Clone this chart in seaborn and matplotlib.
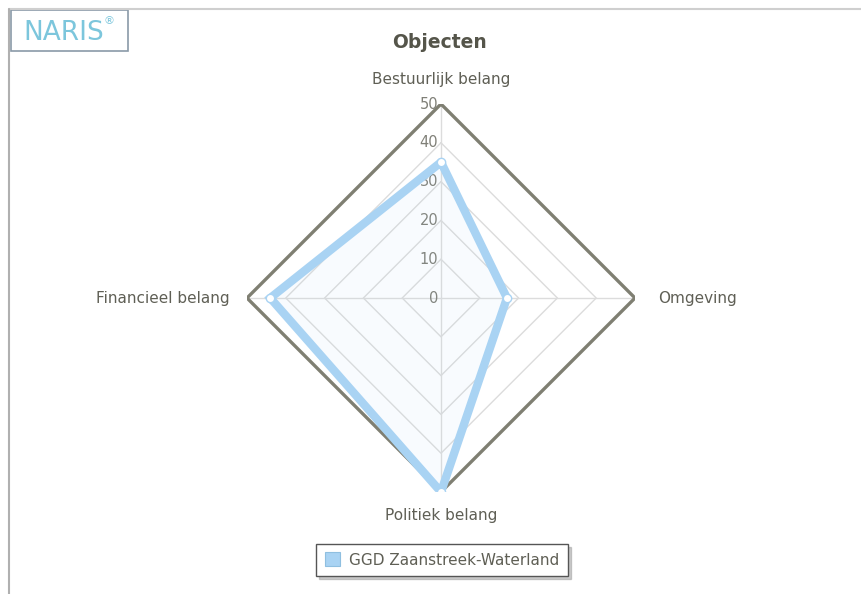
import numpy as np
import pandas as pd
import matplotlib
matplotlib.use("Agg")
import matplotlib.pyplot as plt
import seaborn as sns
from matplotlib.patches import Rectangle
from matplotlib.lines import Line2D

# Gegevens
categorieen = ["Bestuurlijk belang", "Omgeving", "Politiek belang", "Financieel belang"]
waarden = [35, 17, 50, 44]
ringen = [10, 20, 30, 40, 50]
reeks_naam = "GGD Zaanstreek-Waterland"
titel = "Objecten"

sns.set_theme(style="white")
plt.rcParams['font.family'] = ['DejaVu Sans']

tekst_kleur = "#5f5f55"
lijn_blauw = "#a9d3f3"

fig = plt.figure(figsize=(8.62, 5.94), dpi=100)
fig.patch.set_facecolor("white")

# rand van het paneel
fig.add_artist(Line2D([9.5 / 862, 1], [1 - 9 / 594, 1 - 9 / 594], color="#cfcfcf", lw=1.5))
fig.add_artist(Line2D([9.5 / 862, 9.5 / 862], [0, 1 - 9 / 594], color="#b0b0b0", lw=1.5))

# NARIS logo
fig.add_artist(Rectangle((11 / 862, 1 - 51 / 594), 117 / 862, 41 / 594, transform=fig.transFigure,
                         facecolor="white", edgecolor="#8a9aa8", lw=1.2))
fig.text(23 / 862, 1 - 33 / 594, "NARIS", color="#7cc6dc", fontsize=19, va="center", ha="left")
fig.text(104 / 862, 1 - 21 / 594, "®", color="#7cc6dc", fontsize=8, va="center", ha="left")

# titel
fig.text(440 / 862, 1 - 43 / 594, titel, fontsize=13.5, fontweight="bold", color="#55554a",
         ha="center", va="center")

cx, cy, rad = 441 / 862, 1 - 298 / 594, 194
ax = fig.add_axes([cx - rad / 862, cy - rad / 594, 2 * rad / 862, 2 * rad / 594], projection="polar")
ax.set_theta_zero_location("N")
ax.set_theta_direction(-1)
ax.set_ylim(0, 50)
ax.grid(False)
ax.spines["polar"].set_visible(False)
ax.set_xticks([])
ax.set_yticks([])
ax.patch.set_alpha(0)

hoeken = np.linspace(0, 2 * np.pi, len(categorieen), endpoint=False)
hoeken_dicht = np.append(hoeken, hoeken[0])

# rasterlijnen
for r in ringen[:-1]:
    ax.plot(hoeken_dicht, [r] * len(hoeken_dicht), color="#dcdcdc", lw=1.0, zorder=1)
for h in hoeken:
    ax.plot([h, h], [0, 50], color="#dcdcdc", lw=1.0, zorder=1)
ax.plot(hoeken_dicht, [ringen[-1]] * len(hoeken_dicht), color="#7f7f72", lw=2.4, zorder=2)

# radiale labels
for r in [0] + ringen:
    ax.annotate(str(r), (0, r), xytext=(-2, 0), textcoords="offset points",
                ha="right", va="center", fontsize=10.5, color="#808078")

# reeks
df = pd.DataFrame({"hoek": hoeken_dicht, "waarde": waarden + [waarden[0]]})
ax.fill(df["hoek"], df["waarde"], color=lijn_blauw, alpha=0.07, zorder=3)
ax.plot(df["hoek"], df["waarde"], color=lijn_blauw, lw=6, zorder=4, solid_joinstyle="miter")
ax.scatter(hoeken, waarden, s=36, facecolor="white", edgecolor=lijn_blauw, linewidth=1, zorder=5)

# categorie labels
label_pos = [(0, 54.5, "center", "bottom"), (np.pi / 2, 56, "left", "center"),
             (np.pi, 54, "center", "top"), (3 * np.pi / 2, 54.5, "right", "center")]
for naam, (h, r, ha, va) in zip(categorieen, label_pos):
    ax.text(h, r, naam, ha=ha, va=va, fontsize=11, color=tekst_kleur, clip_on=False)

# legenda
handle = Rectangle((0, 0), 1, 1, facecolor=lijn_blauw, edgecolor="#8fbfe0", lw=0.8)
leg = fig.legend([handle], [reeks_naam], loc="center", bbox_to_anchor=(442 / 862, 1 - 560 / 594),
                 frameon=True, fancybox=False, shadow={"color": "#999999", "alpha": 0.5},
                 fontsize=11, handlelength=1.0, handleheight=1.0, borderpad=0.55, handletextpad=0.6)
leg.get_frame().set_edgecolor("#555555")
leg.get_frame().set_linewidth(1.0)
for t in leg.get_texts():
    t.set_color(tekst_kleur)

fig.savefig("out.png", dpi=100)
